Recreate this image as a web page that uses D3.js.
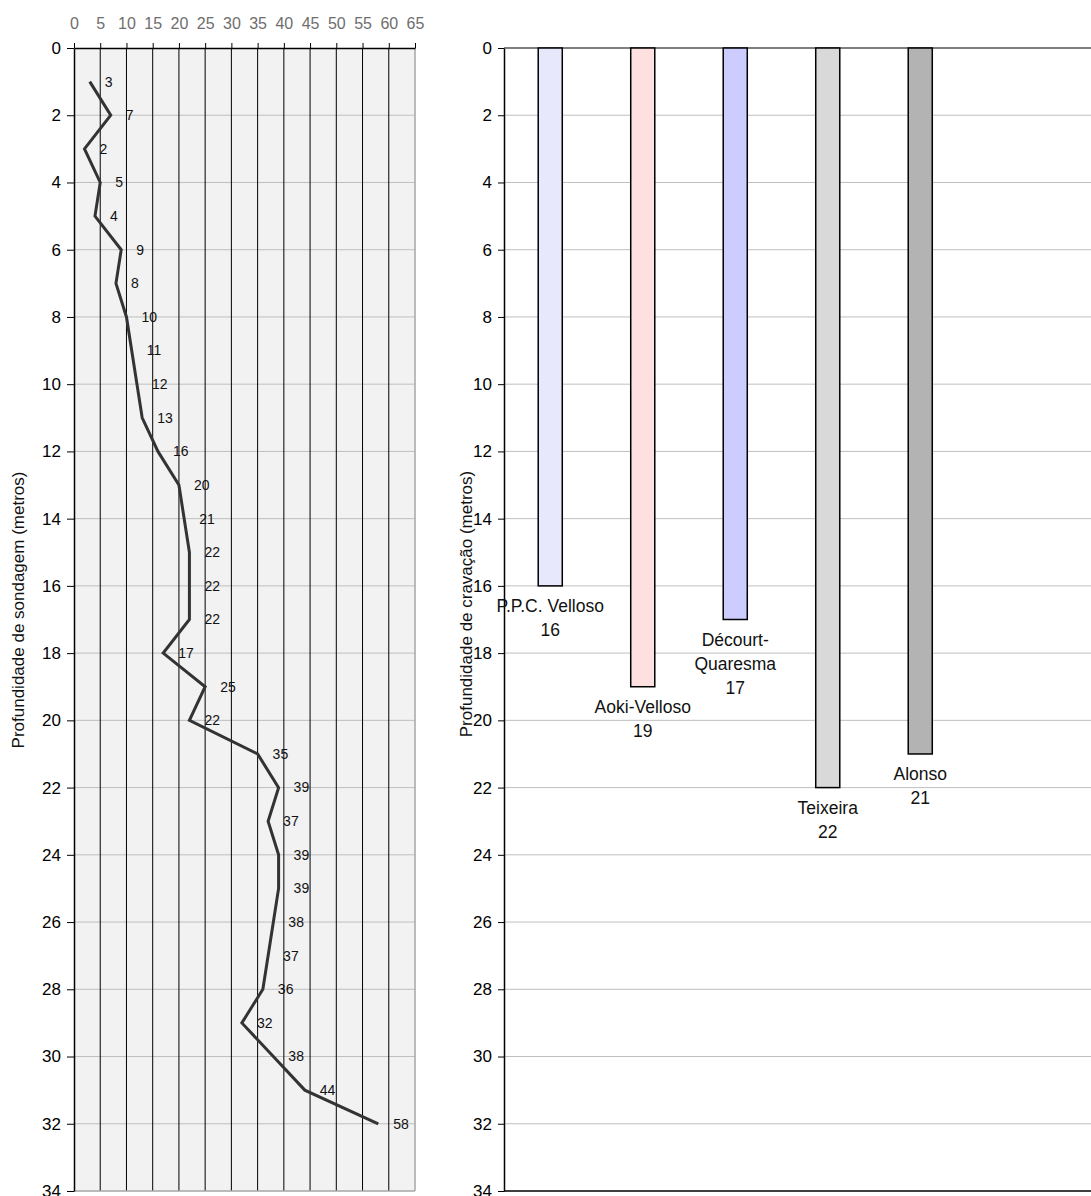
<!DOCTYPE html>
<html>
<head>
<meta charset="utf-8">
<script src="https://cdn.jsdelivr.net/npm/d3@7"></script>
<style>
  html, body { margin: 0; padding: 0; background: #fff; }
  svg { display: block; font-family: "Liberation Sans", Arial, sans-serif; }
</style>
</head>
<body>
<svg id="chart" width="1091" height="1196"></svg>
<script>
// ---- Data: SPT soundings (left chart) ----
const depths = [1,2,3,4,5,6,7,8,9,10,11,12,13,14,15,16,17,18,19,20,21,22,23,24,25,26,27,28,29,30,31,32];
const nspt   = [3,7,2,5,4,9,8,10,11,12,13,16,20,21,22,22,22,17,25,22,35,39,37,39,39,38,37,36,32,38,44,58];
const xTicks = [0,5,10,15,20,25,30,35,40,45,50,55,60,65];
const yTicks = [0,2,4,6,8,10,12,14,16,18,20,22,24,26,28,30,32,34];

// ---- Data: driving depth by method (right chart) ----
const methods      = ["P.P.C. Velloso", "Aoki-Velloso", "Décourt-Quaresma", "Teixeira", "Alonso"];
const methodLines  = [["P.P.C. Velloso"], ["Aoki-Velloso"], ["Décourt-", "Quaresma"], ["Teixeira"], ["Alonso"]];
const methodDepths = [16, 19, 17, 22, 21];
const methodColors = ["#e8e8fc", "#ffe0e0", "#ccccff", "#d9d9d9", "#b3b3b3"];

const FONT = "Liberation Sans, Arial, sans-serif";
const svg = d3.select("#chart");

// ================= LEFT CHART =================
const L = { left: 74, right: 415, top: 48, bottom: 1191 };
const x1 = d3.scaleLinear().domain([0, 65]).range([L.left, L.right]);
const y1 = d3.scaleLinear().domain([0, 34]).range([L.top, L.bottom]);

const g1 = svg.append("g");
g1.append("rect")
  .attr("x", L.left).attr("y", L.top)
  .attr("width", L.right - L.left).attr("height", L.bottom - L.top)
  .attr("fill", "#f2f2f2");

g1.append("g").selectAll("line").data(yTicks.filter(d => d > 0 && d < 34)).join("line")
  .attr("x1", L.left).attr("x2", L.right)
  .attr("y1", d => y1(d)).attr("y2", d => y1(d))
  .attr("stroke", "#bfbfbf").attr("stroke-width", 1);

g1.append("g").selectAll("line").data(xTicks.filter(d => d > 0 && d < 65)).join("line")
  .attr("x1", d => x1(d)).attr("x2", d => x1(d))
  .attr("y1", L.top).attr("y2", L.bottom)
  .attr("stroke", "#000").attr("stroke-width", 1);

g1.append("line").attr("x1", L.right).attr("x2", L.right).attr("y1", L.top).attr("y2", L.bottom)
  .attr("stroke", "#a6a6a6").attr("stroke-width", 1.5);
g1.append("line").attr("x1", L.left).attr("x2", L.right).attr("y1", L.bottom).attr("y2", L.bottom)
  .attr("stroke", "#a6a6a6").attr("stroke-width", 1.5);

const topAxis = g1.append("g").attr("transform", `translate(0,${L.top})`)
  .call(d3.axisTop(x1).tickValues(xTicks).tickSize(5).tickPadding(14).tickSizeOuter(0));
topAxis.attr("font-size", null).attr("font-family", null);
topAxis.select(".domain").attr("stroke", "#000").attr("stroke-width", 1.5);
topAxis.selectAll(".tick line").attr("stroke", "#000");
topAxis.selectAll("text").style("font-size", "16px").attr("fill", "#6e6e6e").style("font-family", FONT);

const leftAxis = g1.append("g").attr("transform", `translate(${L.left},0)`)
  .call(d3.axisLeft(y1).tickValues(yTicks).tickSize(7).tickPadding(6).tickSizeOuter(0));
leftAxis.attr("font-size", null).attr("font-family", null);
leftAxis.select(".domain").attr("stroke", "#000").attr("stroke-width", 1.5);
leftAxis.selectAll(".tick line").attr("stroke", "#000");
leftAxis.selectAll("text").style("font-size", "17px").attr("fill", "#000").style("font-family", FONT);

const pts = depths.map((d, i) => ({ depth: d, n: nspt[i] }));
g1.append("path").datum(pts)
  .attr("fill", "none").attr("stroke", "#333").attr("stroke-width", 3)
  .attr("stroke-linejoin", "miter")
  .attr("d", d3.line().x(d => x1(d.n)).y(d => y1(d.depth)));

g1.append("g").selectAll("text").data(pts).join("text")
  .attr("x", d => x1(d.n) + 15).attr("y", d => y1(d.depth))
  .attr("dy", "0.35em")
  .style("font-size", "14px").attr("fill", "#111")
  .text(d => d.n);

svg.append("text")
  .attr("transform", "translate(24,610) rotate(-90)")
  .attr("text-anchor", "middle").style("font-size", "17px").attr("fill", "#111")
  .text("Profundidade de sondagem (metros)");

// ================= RIGHT CHART =================
const R = { left: 504, right: 1091, top: 48, bottom: 1191 };
const y2 = d3.scaleLinear().domain([0, 34]).range([R.top, R.bottom]);
const x2 = d3.scaleBand().domain(methods).range([R.left, R.left + 5 * 92.5])
  .paddingInner(0.74).paddingOuter(0.37);

const g2 = svg.append("g");
g2.append("g").selectAll("line").data(yTicks.filter(d => d > 0 && d < 34)).join("line")
  .attr("x1", R.left).attr("x2", R.right)
  .attr("y1", d => y2(d)).attr("y2", d => y2(d))
  .attr("stroke", "#bfbfbf").attr("stroke-width", 1);

g2.append("line").attr("x1", R.left).attr("x2", R.right).attr("y1", y2(0)).attr("y2", y2(0))
  .attr("stroke", "#555").attr("stroke-width", 1.5);
g2.append("line").attr("x1", R.left).attr("x2", R.right).attr("y1", y2(34)).attr("y2", y2(34))
  .attr("stroke", "#000").attr("stroke-width", 1.5);

const axis2 = g2.append("g").attr("transform", `translate(${R.left},0)`)
  .call(d3.axisLeft(y2).tickValues(yTicks).tickSize(6).tickPadding(6).tickSizeOuter(0));
axis2.attr("font-size", null).attr("font-family", null);
axis2.select(".domain").attr("stroke", "#000").attr("stroke-width", 1.5);
axis2.selectAll(".tick line").attr("stroke", "#000");
axis2.selectAll("text").style("font-size", "17px").attr("fill", "#000").style("font-family", FONT);

const bars = methods.map((m, i) => ({ m, depth: methodDepths[i], color: methodColors[i], lines: methodLines[i] }));
g2.append("g").selectAll("rect").data(bars).join("rect")
  .attr("x", d => x2(d.m)).attr("y", y2(0))
  .attr("width", x2.bandwidth()).attr("height", d => y2(d.depth) - y2(0))
  .attr("fill", d => d.color).attr("stroke", "#000").attr("stroke-width", 1.5);

const lab = g2.append("g").selectAll("text").data(bars).join("text")
  .attr("x", d => x2(d.m) + x2.bandwidth() / 2)
  .attr("y", d => y2(d.depth) + 20)
  .attr("text-anchor", "middle").style("font-size", "17.5px").attr("fill", "#111");
lab.each(function(d) {
  const t = d3.select(this);
  const all = d.lines.concat([String(d.depth)]);
  all.forEach((s, k) => {
    t.append("tspan").attr("x", x2(d.m) + x2.bandwidth() / 2)
      .attr("dy", k === 0 ? "0.35em" : "24px").text(s);
  });
});

svg.append("text")
  .attr("transform", "translate(472,604) rotate(-90)")
  .attr("text-anchor", "middle").style("font-size", "17px").attr("fill", "#111")
  .text("Profundidade de cravação (metros)");
</script>
</body>
</html>
